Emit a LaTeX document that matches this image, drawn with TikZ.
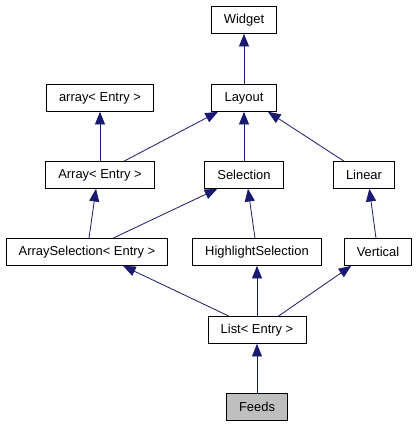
\documentclass[tikz,border=0pt]{standalone}
\usepackage{fontspec}
\setmainfont{Liberation Sans}
\usetikzlibrary{arrows.meta,positioning}
\definecolor{dxnavy}{RGB}{25,25,112}
\definecolor{dxgray}{RGB}{191,191,191}

\begin{document}
\begin{tikzpicture}[x=0.75pt, y=-0.75pt, >={Triangle[length=9.5pt,width=7.5pt]},
    classbox/.style={draw=black, line width=0.7pt, rectangle, fill=white, minimum height=20pt, inner xsep=9.5pt, font=\fontsize{9.7}{11}\selectfont},
    inherit/.style={->, dxnavy, line width=0.6pt}]
    \useasboundingbox (0,0) rectangle (417,427);

    % class boxes, one row per level
    \node [classbox] (widget) at (244,20) {Widget};
    \node [classbox] (arraylow) at (100,98) {array< Entry >};
    \node [classbox] (layout) at (244,98) {Layout};
    \node [classbox] (arrayup) at (100,175) {Array< Entry >};
    \node [classbox] (selection) at (244,175) {Selection};
    \node [classbox] (linear) at (364,175) {Linear};
    \node [classbox] (arraysel) at (87,252) {ArraySelection< Entry >};
    \node [classbox] (hisel) at (257,252) {HighlightSelection};
    \node [classbox] (vertical) at (378,252) {Vertical};
    \node [classbox] (list) at (257,330) {List< Entry >};
    \node [classbox, fill=dxgray] (feeds) at (257,407) {Feeds};

    % inheritance edges, child to parent
    \draw [inherit] (layout) -- (widget);
    \draw [inherit] (arrayup) -- (arraylow);
    \draw [inherit] ([xshift=18pt]arrayup.north) -- ([xshift=-19.5pt]layout.south);
    \draw [inherit] (selection) -- (layout);
    \draw [inherit] ([xshift=-15pt]linear.north) -- ([xshift=18pt]layout.south);
    \draw [inherit] ([xshift=1.5pt]arraysel.north) -- ([xshift=-3pt]arrayup.south);
    \draw [inherit] ([xshift=19.5pt]arraysel.north) -- ([xshift=-20pt]selection.south);
    \draw [inherit] ([xshift=-1.5pt]hisel.north) -- ([xshift=3pt]selection.south);
    \draw [inherit] ([xshift=-1.5pt]vertical.north) -- ([xshift=4pt]linear.south);
    \draw [inherit] ([xshift=-21pt]list.north) -- ([xshift=27pt]arraysel.south);
    \draw [inherit] (list) -- (hisel);
    \draw [inherit] ([xshift=16pt]list.north) -- ([xshift=-20pt]vertical.south);
    \draw [inherit] (feeds) -- (list);
\end{tikzpicture}
\end{document}
